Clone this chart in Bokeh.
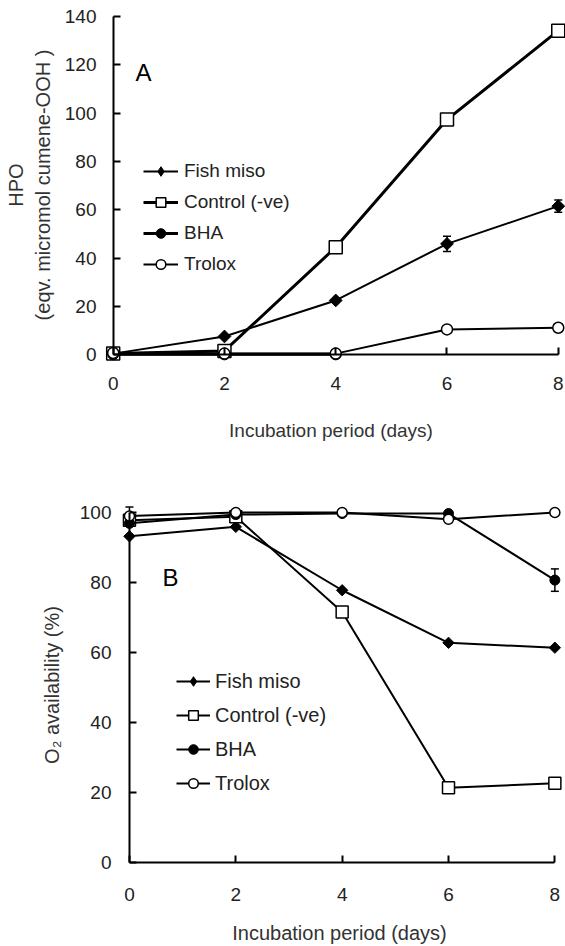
import math
from bokeh.plotting import figure
from bokeh.models import (Range1d, FixedTicker, Legend, LegendItem, Label, LinearAxis,
                          Whisker, ColumnDataSource, TeeHead, Title)
from bokeh.embed import file_html
from bokeh.resources import INLINE

NAN = float("nan")

# ---------------- data ----------------
days = [0, 2, 4, 6, 8]
x_ticks = [0, 2, 4, 6, 8]
series_names = ["Fish miso", "Control (-ve)", "BHA", "Trolox"]

# Panel A: HPO (eqv. micromol cumene-OOH)
a_fish = [0.5, 7.6, 22.5, 45.9, 61.5]
a_fish_err = [0, 0, 0, 3.2, 2.5]
a_control = [0.5, 1.6, 44.5, 97.3, 134.1]
a_bha = [0.2, 0.2, 0.2, NAN, NAN]
a_trolox = [0.8, 0.5, 0.5, 10.5, 11.2]
a_yticks = [0, 20, 40, 60, 80, 100, 120, 140]
a_ytitle = ["HPO", "(eqv. micromol cumene-OOH )"]

# Panel B: O2 availability (%)
b_fish = [93.2, 95.9, 77.8, 62.8, 61.4]
b_control = [97.8, 98.8, 71.6, 21.4, 22.7]
b_bha = [96.9, 99.4, 99.7, 99.7, 80.7]
b_bha_err = [0, 0, 0, 0, 3.2]
b_trolox = [99.0, 100.0, 100.0, 98.1, 100.0]
b_trolox_err = [2.6, 0, 0, 0, 0]
b_yticks = [0, 20, 40, 60, 80, 100]
b_ytitle = "O\u2082 availability (%)"

FONT = "Liberation Sans"
TXT = "#222222"


def whiskers(p, xs, ys, errs):
    pts = [(x, y, e) for x, y, e in zip(xs, ys, errs) if e > 0]
    src = ColumnDataSource(dict(x=[q[0] for q in pts],
                                u=[q[1] + q[2] for q in pts],
                                l=[q[1] - q[2] for q in pts]))
    w = Whisker(base="x", upper="u", lower="l", source=src,
                line_color="black", line_width=1.5,
                upper_head=TeeHead(size=8, line_width=1.5, line_color="black"),
                lower_head=TeeHead(size=8, line_width=1.5, line_color="black"))
    p.add_layout(w)


def make_panel(height, xr, yr, borders, ybounds, yticks, ylabel,
               tick_fs, lab_fs, ylab_fs, sx, sy):
    p = figure(width=565, height=height, x_range=Range1d(*xr), y_range=Range1d(*yr),
               output_backend="svg", toolbar_location=None,
               min_border_left=borders[0], min_border_right=borders[1],
               min_border_top=borders[2], min_border_bottom=borders[3])
    p.outline_line_color = None
    p.xgrid.visible = False
    p.ygrid.visible = False
    p.background_fill_color = "white"
    p.border_fill_color = "white"

    # axes at the frame edge: tick labels and titles only
    for ax in (p.xaxis[0], p.yaxis[0]):
        ax.axis_line_color = None
        ax.major_tick_line_color = None
        ax.major_tick_in = 0
        ax.major_tick_out = 0
        ax.minor_tick_line_color = None
        ax.major_label_text_font = FONT
        ax.major_label_text_font_size = f"{tick_fs}px"
        ax.major_label_text_color = TXT
        ax.axis_label_text_font = FONT
        ax.axis_label_text_font_style = "normal"
        ax.axis_label_text_color = "#333333"

    p.xaxis[0].ticker = FixedTicker(ticks=x_ticks)
    p.xaxis[0].axis_label = "Incubation period (days)"
    p.xaxis[0].axis_label_text_font_size = f"{lab_fs}px"
    p.xaxis[0].major_label_standoff = sx[0]
    p.xaxis[0].axis_label_standoff = sx[1]

    p.yaxis[0].ticker = FixedTicker(ticks=yticks)
    p.yaxis[0].major_label_standoff = sy[0]
    if isinstance(ylabel, str):
        p.yaxis[0].axis_label = ylabel
        p.yaxis[0].axis_label_text_font_size = f"{ylab_fs}px"
        p.yaxis[0].axis_label_standoff = sy[1]

    # axes crossing at the origin: line and inward ticks (no labels)
    for side, ticks, bnds in (("below", x_ticks, (0, 8)), ("left", yticks, ybounds)):
        ax = LinearAxis(fixed_location=0,
                        ticker=FixedTicker(ticks=[], minor_ticks=ticks), bounds=bnds,
                        axis_line_width=2, axis_line_color="black",
                        major_tick_line_color=None, major_tick_in=0, major_tick_out=0,
                        minor_tick_line_color="black", minor_tick_line_width=2,
                        minor_tick_in=7, minor_tick_out=0, major_label_standoff=0)
        p.add_layout(ax, side)

    # two-line y title: inner line first, then the outer line
    if not isinstance(ylabel, str):
        for txt, so in ((ylabel[1], sy[1]), (ylabel[0], sy[2])):
            p.add_layout(Title(text=txt, align="center", standoff=so,
                               text_font=FONT, text_font_size=f"{ylab_fs}px",
                               text_font_style="normal", text_color="#333333"), "left")
    return p


def add_series(p, fish, control, bha, trolox, lw, sq, circ, dia, leg_dia):
    r = {}
    r["fish_l"] = p.line(days, fish, line_color="black", line_width=lw[0])
    p.scatter(days, fish, marker="square", angle=math.pi / 4, size=dia,
              fill_color="black", line_color="black")
    # diamond used for the legend key
    r["fish_m"] = p.scatter(days, fish, marker="diamond", size=leg_dia,
                            fill_color="black", line_color="black", visible=False)
    r["ctl_l"] = p.line(days, control, line_color="black", line_width=lw[1])
    r["ctl_m"] = p.scatter(days, control, marker="square", size=sq,
                           fill_color="white", line_color="black", line_width=1.5)
    r["bha_l"] = p.line(days, bha, line_color="black", line_width=lw[2])
    r["bha_m"] = p.scatter(days, bha, marker="circle", size=circ,
                           fill_color="black", line_color="black")
    r["tro_l"] = p.line(days, trolox, line_color="black", line_width=lw[3])
    r["tro_m"] = p.scatter(days, trolox, marker="circle", size=circ,
                           fill_color="white", line_color="black", line_width=1.5)
    return r


def add_legend(p, r, loc, fs, glyph_w, spacing, standoff):
    items = [LegendItem(label=series_names[0], renderers=[r["fish_l"], r["fish_m"]]),
             LegendItem(label=series_names[1], renderers=[r["ctl_l"], r["ctl_m"]]),
             LegendItem(label=series_names[2], renderers=[r["bha_l"], r["bha_m"]]),
             LegendItem(label=series_names[3], renderers=[r["tro_l"], r["tro_m"]])]
    lg = Legend(items=items, location=loc, padding=0, margin=0,
                border_line_alpha=0, background_fill_alpha=0,
                label_text_font=FONT, label_text_font_size=f"{fs}px",
                label_text_color=TXT, glyph_width=glyph_w, glyph_height=24,
                label_height=24, spacing=spacing, label_standoff=standoff)
    p.add_layout(lg)


# ---------------- Panel A ----------------
pA = make_panel(458, (-0.3, 8.13), (-4, 144.5), (96, 0, 5, 94),
                (0, 140), a_yticks, a_ytitle,
                19, 19, 20, (12, 27), (0, 15, -9))
whiskers(pA, days, a_fish, a_fish_err)
rA = add_series(pA, a_fish, a_control, a_bha, a_trolox,
                lw=(2, 3, 3, 2), sq=13, circ=11, dia=9, leg_dia=13)
add_legend(pA, rA, (47, 88), 19, 35, 7, 6)
pA.add_layout(Label(x=0.545, y=116.8, text="A", text_font=FONT, text_font_size="24px",
                    text_align="center", text_baseline="middle", text_color="black"))

# ---------------- Panel B ----------------
pB = make_panel(488, (-0.3, 8.2), (-2.5, 104), (113, 0, 40, 75),
                (0, 100), b_yticks, b_ytitle,
                19, 20, 20, (16, 18), (2, 14))
whiskers(pB, days, b_bha, b_bha_err)
whiskers(pB, days, b_trolox, b_trolox_err)
rB = add_series(pB, b_fish, b_control, b_bha, b_trolox,
                lw=(2, 2, 2, 2), sq=12, circ=10, dia=8, leg_dia=12)
add_legend(pB, rB, (63, 76), 20, 34, 10, 5)
pB.add_layout(Label(x=0.771, y=81.5, text="B", text_font=FONT, text_font_size="24px",
                    text_align="center", text_baseline="middle", text_color="black"))

# two independent roots, stacked on the page (no frame alignment between them)
open("out.html", "w").write(file_html([pA, pB], INLINE))
